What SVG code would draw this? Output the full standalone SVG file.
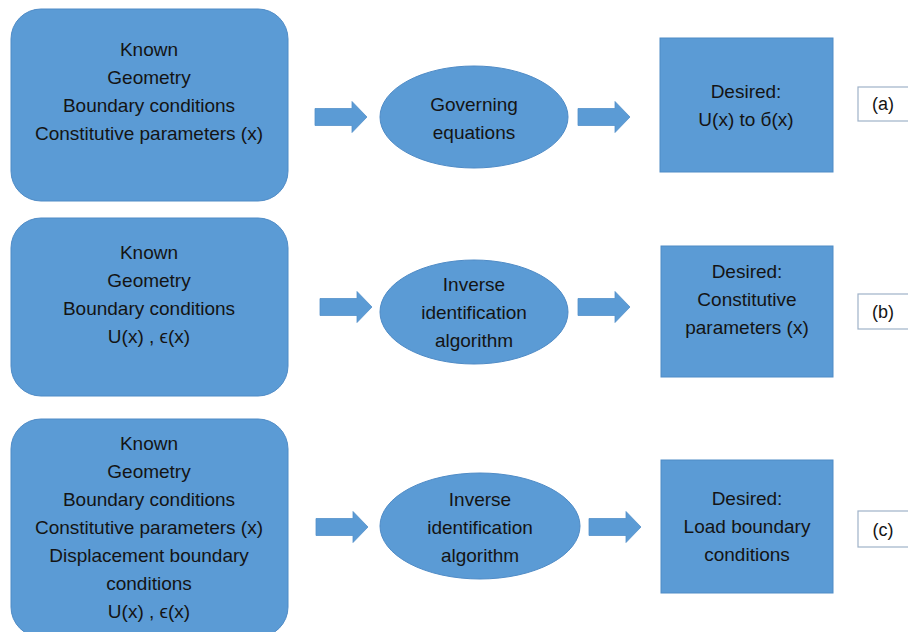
<svg xmlns="http://www.w3.org/2000/svg" width="908" height="632" viewBox="0 0 908 632">
  <defs>
    <style>
      .node { fill: #5b9bd5; stroke: #4f8bc6; stroke-width: 1; }
      .tag { fill: #ffffff; stroke: #9fb2c8; stroke-width: 1.2; }
      .arrow { fill: #5b9bd5; stroke: #5490c9; stroke-width: 0.8; }
      text { font-family: "Liberation Sans", Arial, sans-serif; font-size: 19px; fill: #141414; text-anchor: middle; }
      .lbl { font-size: 18px; }
    </style>
    <!-- block arrow, tip at origin, pointing right -->
    <path id="blk" d="M-52,-8.5 H-15 V-15.5 L0,0 L-15,15.5 V8.5 H-52 Z"/>
  </defs>

  <rect width="908" height="632" fill="#ffffff"/>

  <!-- Row (a): forward problem -->
  <g id="known-a">
    <rect class="node" x="11" y="9" width="277" height="192" rx="30"/>
    <text x="149" y="56">Known</text>
    <text x="149" y="84">Geometry</text>
    <text x="149" y="112">Boundary conditions</text>
    <text x="149" y="140">Constitutive parameters (x)</text>
  </g>
  <g id="solver-a">
    <ellipse class="node" cx="474" cy="117" rx="94" ry="51"/>
    <text x="474" y="111">Governing</text>
    <text x="474" y="139">equations</text>
  </g>
  <g id="desired-a">
    <rect class="node" x="660" y="38" width="173" height="134"/>
    <text x="746" y="98">Desired:</text>
    <text x="746" y="126">U(x) to б(x)</text>
  </g>
  <g id="tag-a">
    <rect class="tag" x="858" y="87" width="70" height="34"/>
    <text class="lbl" x="883" y="110">(a)</text>
  </g>

  <!-- Row (b): identification of constitutive parameters -->
  <g id="known-b">
    <rect class="node" x="11" y="218" width="277" height="178" rx="30"/>
    <text x="149" y="259">Known</text>
    <text x="149" y="287">Geometry</text>
    <text x="149" y="315">Boundary conditions</text>
    <text x="149" y="343">U(x) , ϵ(x)</text>
  </g>
  <g id="solver-b">
    <ellipse class="node" cx="474" cy="312" rx="94" ry="52"/>
    <text x="474" y="291">Inverse</text>
    <text x="474" y="319">identification</text>
    <text x="474" y="347">algorithm</text>
  </g>
  <g id="desired-b">
    <rect class="node" x="661" y="246" width="172" height="131"/>
    <text x="747" y="278">Desired:</text>
    <text x="747" y="306">Constitutive</text>
    <text x="747" y="334">parameters (x)</text>
  </g>
  <g id="tag-b">
    <rect class="tag" x="858" y="294" width="70" height="35"/>
    <text class="lbl" x="883" y="318">(b)</text>
  </g>

  <!-- Row (c): identification of load boundary conditions -->
  <g id="known-c">
    <rect class="node" x="11" y="419" width="277" height="218" rx="30"/>
    <text x="149" y="450">Known</text>
    <text x="149" y="478">Geometry</text>
    <text x="149" y="506">Boundary conditions</text>
    <text x="149" y="534">Constitutive parameters (x)</text>
    <text x="149" y="562">Displacement boundary</text>
    <text x="149" y="590">conditions</text>
    <text x="149" y="618">U(x) , ϵ(x)</text>
  </g>
  <g id="solver-c">
    <ellipse class="node" cx="480" cy="526" rx="100" ry="53"/>
    <text x="480" y="506">Inverse</text>
    <text x="480" y="534">identification</text>
    <text x="480" y="562">algorithm</text>
  </g>
  <g id="desired-c">
    <rect class="node" x="661" y="460" width="172" height="133"/>
    <text x="747" y="505">Desired:</text>
    <text x="747" y="533">Load boundary</text>
    <text x="747" y="561">conditions</text>
  </g>
  <g id="tag-c">
    <rect class="tag" x="858" y="511" width="70" height="36"/>
    <text class="lbl" x="883" y="536">(c)</text>
  </g>

  <!-- Connectors -->
  <g id="connectors">
    <use href="#blk" class="arrow" transform="translate(367,117)"/>
    <use href="#blk" class="arrow" transform="translate(630,117)"/>
    <use href="#blk" class="arrow" transform="translate(372,307)"/>
    <use href="#blk" class="arrow" transform="translate(630,307)"/>
    <use href="#blk" class="arrow" transform="translate(368,527)"/>
    <use href="#blk" class="arrow" transform="translate(641,527)"/>
  </g>
</svg>
